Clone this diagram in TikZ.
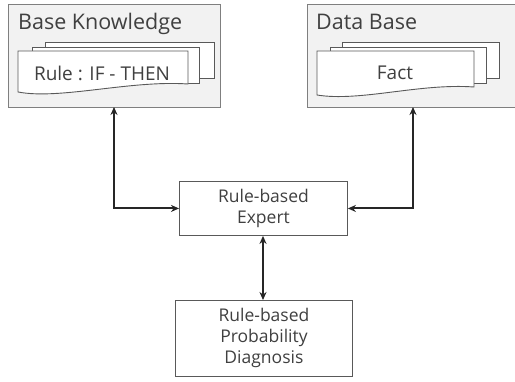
\documentclass[tikz,border=0pt]{standalone}
\usepackage{fontspec}
\setmainfont{Open Sans}
\usetikzlibrary{arrows.meta}
\definecolor{txt}{HTML}{404040}
\definecolor{panelfill}{HTML}{F2F2F2}
\definecolor{panelline}{HTML}{7F7F7F}
\definecolor{sheetline}{HTML}{595959}
\definecolor{arrowcol}{HTML}{262626}
\tikzset{
  panel/.style={draw=panelline, fill=panelfill, line width=1.3pt, anchor=north west, inner sep=0pt},
  sheet/.style={draw=sheetline, fill=white, line width=0.9pt},
  procbox/.style={draw=sheetline, fill=white, line width=0.9pt, anchor=north west, inner sep=0pt, text=txt, align=center, font=\fontsize{17.5}{21}\selectfont},
  link/.style={draw=arrowcol, line width=2pt, {Stealth[length=8pt,width=7pt]}-{Stealth[length=8pt,width=7pt]}},
  paneltitle/.style={anchor=base west, text=txt, inner sep=0pt, font=\fontsize{21.5}{24}\selectfont},
  sheettext/.style={text=txt, font=\fontsize{19}{22}\selectfont},
}
\begin{document}
\begin{tikzpicture}[x=1pt,y=1pt]
\useasboundingbox (0,0) rectangle (515,-382);
\clip (0,0) rectangle (515,-382);
\fill[white] (0,0) rectangle (515,-382);

% knowledge base panel
\node[panel, minimum width=212pt, minimum height=103pt] (kb) at (8,-4) {};
\node[paneltitle] (kbt) at (18,-30) {Base Knowledge};
\draw[sheet] (45,-42) rectangle (214,-78);
\draw[sheet] (32,-47) rectangle (199,-83);
\draw[sheet] (18,-51) -- (188,-51) -- (188,-84)
  .. controls (130,-80) and (60,-100) .. (18,-92) -- cycle;
\node[sheettext] (rule) at (102,-73) {Rule : IF - THEN};

% data base panel
\node[panel, minimum width=220pt, minimum height=103pt] (db) at (307,-4) {};
\node[paneltitle] (dbt) at (316,-30) {Data Base};
\draw[sheet] (342,-42) rectangle (499,-78);
\draw[sheet] (330,-47) rectangle (486,-83);
\draw[sheet] (317,-51) -- (474,-51) -- (474,-87)
  .. controls (420,-83) and (360,-102) .. (317,-95) -- cycle;
\node[sheettext] (fact) at (395,-73) {Fact};

% processing boxes
\node[procbox, minimum width=168pt, minimum height=54pt] (expert) at (179,-181) {Rule-based\\Expert};
\node[procbox, minimum width=177pt, minimum height=76pt] (diag) at (175,-300) {Rule-based\\Probability\\Diagnosis};

% connectors
\coordinate (kbfoot) at (114,-107);
\coordinate (dbfoot) at (413,-107);
\draw[link] (kbfoot) |- (expert.west);
\draw[link] (dbfoot) |- (expert.east);
\draw[link] (expert.south -| 263,0) -- (diag.north -| 263,0);
\end{tikzpicture}
\end{document}
